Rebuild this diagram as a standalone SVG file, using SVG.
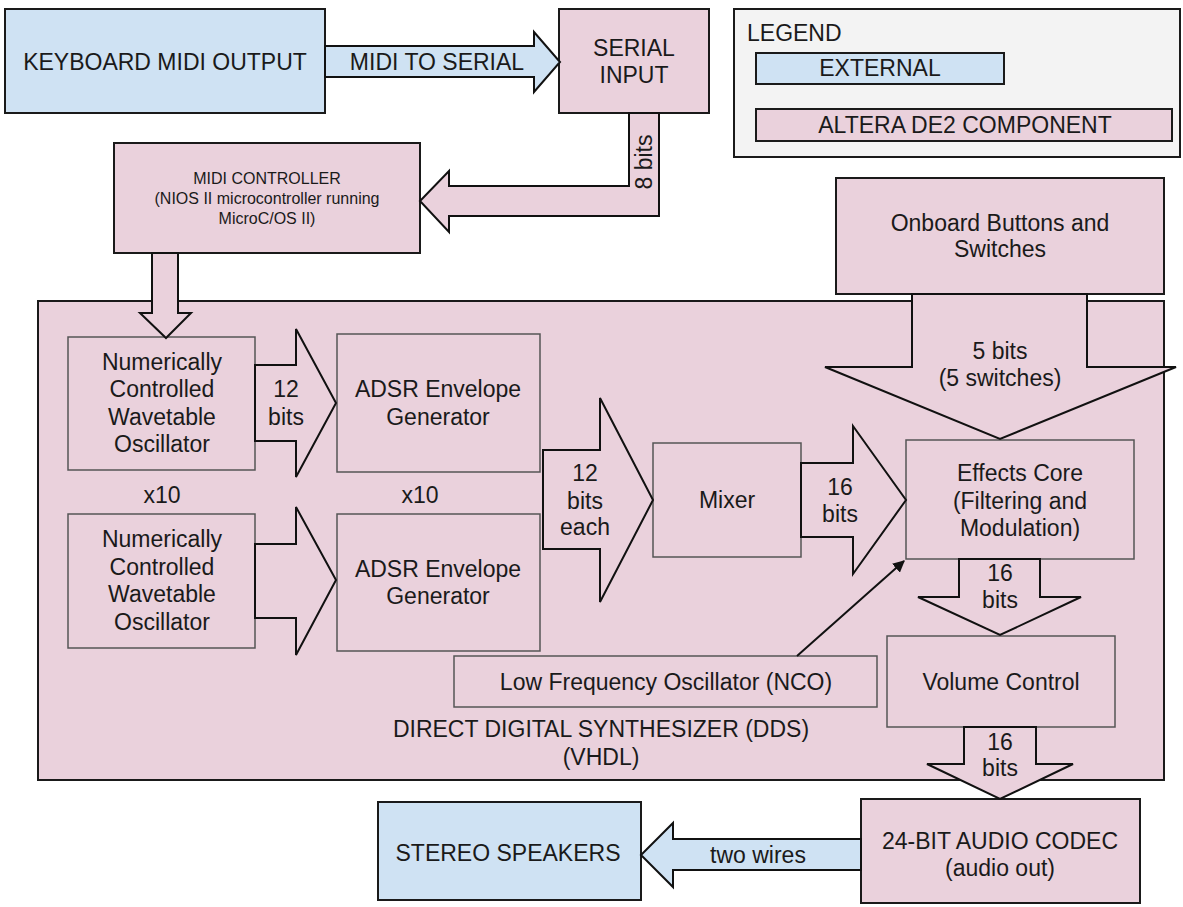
<svg xmlns="http://www.w3.org/2000/svg" width="1183" height="907" viewBox="0 0 1183 907">
<style>
text{font-family:"Liberation Sans",Arial,sans-serif;font-size:23px;fill:#1a1a1a;text-anchor:middle}
.small{font-size:16px}
.ext{fill:#cfe2f3;stroke:#1a1a1a;stroke-width:2}
.de2{fill:#ead1dc;stroke:#1a1a1a;stroke-width:2}
.inner{fill:#ead1dc;stroke:#555;stroke-width:1.5}
.leg{fill:#f3f3f3;stroke:#1a1a1a;stroke-width:2}
.arP{fill:#ead1dc;stroke:#111;stroke-width:2;stroke-linejoin:miter}
.arB{fill:#cfe2f3;stroke:#111;stroke-width:2;stroke-linejoin:miter}
.line{fill:none;stroke:#111;stroke-width:2}
</style>
<defs>
<marker id="ah" viewBox="0 0 10 10" refX="9" refY="5" markerWidth="6" markerHeight="6" orient="auto" markerUnits="strokeWidth">
<path d="M0,0 L10,5 L0,10 z" fill="#111"/>
</marker>
</defs>
<rect width="1183" height="907" fill="#fff"/>

<g id="dds">
<rect class="de2" x="38" y="301" width="1126" height="479"/>
<text x="601" y="737">DIRECT DIGITAL SYNTHESIZER (DDS)</text>
<text x="601" y="765">(VHDL)</text>
</g>

<g id="keyboard">
<rect class="ext" x="5" y="9" width="320" height="104"/>
<text x="165" y="70">KEYBOARD MIDI OUTPUT</text>
</g>

<g id="serial">
<rect class="de2" x="559" y="9" width="150" height="104"/>
<text x="634" y="56">SERIAL</text>
<text x="634" y="83">INPUT</text>
</g>

<g id="legend">
<rect class="leg" x="734" y="9" width="446" height="148"/>
<text x="747" y="41" style="text-anchor:start">LEGEND</text>
<rect class="ext" x="756" y="53" width="248" height="31"/>
<text x="880" y="76">EXTERNAL</text>
<rect class="de2" x="756" y="109" width="416" height="32"/>
<text x="965" y="133">ALTERA DE2 COMPONENT</text>
</g>

<g id="midi-controller">
<rect class="de2" x="114" y="143" width="306" height="110"/>
<text class="small" x="267" y="184">MIDI CONTROLLER</text>
<text class="small" x="267" y="204">(NIOS II microcontroller running</text>
<text class="small" x="267" y="224">MicroC/OS II)</text>
</g>

<g id="onboard">
<rect class="de2" x="836" y="178" width="328" height="116"/>
<text x="1000" y="231">Onboard Buttons and</text>
<text x="1000" y="257">Switches</text>
</g>

<g id="nco1">
<rect class="inner" x="68" y="337" width="187" height="133"/>
<text x="162" y="370">Numerically</text>
<text x="162" y="397">Controlled</text>
<text x="162" y="425">Wavetable</text>
<text x="162" y="452">Oscillator</text>
</g>

<g id="nco2">
<rect class="inner" x="68" y="514" width="187" height="134"/>
<text x="162" y="547">Numerically</text>
<text x="162" y="575">Controlled</text>
<text x="162" y="602">Wavetable</text>
<text x="162" y="630">Oscillator</text>
</g>

<g id="adsr1">
<rect class="inner" x="337" y="334" width="203" height="138"/>
<text x="438" y="397">ADSR Envelope</text>
<text x="438" y="425">Generator</text>
</g>

<g id="adsr2">
<rect class="inner" x="337" y="514" width="203" height="137"/>
<text x="438" y="577">ADSR Envelope</text>
<text x="438" y="604">Generator</text>
</g>

<g id="x10-labels">
<text x="162" y="503">x10</text>
<text x="420" y="503">x10</text>
</g>

<g id="mixer">
<rect class="inner" x="653" y="443" width="148" height="114"/>
<text x="727" y="508">Mixer</text>
</g>

<g id="effects">
<rect class="inner" x="906" y="440" width="228" height="119"/>
<text x="1020" y="481">Effects Core</text>
<text x="1020" y="509">(Filtering and</text>
<text x="1020" y="536">Modulation)</text>
</g>

<g id="lfo">
<rect class="inner" x="454" y="656" width="423" height="51"/>
<text x="666" y="690">Low Frequency Oscillator (NCO)</text>
</g>

<g id="volume">
<rect class="inner" x="887" y="636" width="228" height="91"/>
<text x="1001" y="690">Volume Control</text>
</g>

<g id="codec">
<rect class="de2" x="861" y="799" width="279" height="104"/>
<text x="1000" y="849">24-BIT AUDIO CODEC</text>
<text x="1000" y="876">(audio out)</text>
</g>

<g id="speakers">
<rect class="ext" x="378" y="802" width="263" height="98"/>
<text x="508" y="861">STEREO SPEAKERS</text>
</g>

<g id="connectors">
<polygon class="arB" points="325,46 534,46 534,32 560,62 534,92 534,77 325,77"/>
<text x="437" y="70">MIDI TO SERIAL</text>

<polygon class="arP" points="629,113 629,186 449,186 449,171 420,201 449,232 449,216 659,216 659,113"/>
<text x="644" y="162" transform="rotate(-90 644 162)" dy="8">8 bits</text>

<polygon class="arP" points="152,253 152,313 140,313 166,338 191,313 178,313 178,253"/>

<polygon class="arP" points="255,365 296,365 296,329 336,403 296,477 296,441 255,441"/>
<text x="286" y="397">12</text>
<text x="286" y="425">bits</text>

<polygon class="arP" points="255,544 296,544 296,507 336,580 296,655 296,618 255,618"/>

<polygon class="arP" points="543,450 600,450 600,398 653,500 600,602 600,549 543,549"/>
<text x="585" y="481">12</text>
<text x="585" y="509">bits</text>
<text x="585" y="535">each</text>

<polygon class="arP" points="801,463 853,463 853,426 906,500 853,574 853,537 801,537"/>
<text x="840" y="495">16</text>
<text x="840" y="522">bits</text>

<polygon class="arP" points="912,294 912,367 825,367 1000,439 1176,367 1087,367 1087,294"/>
<text x="1000" y="359">5 bits</text>
<text x="1000" y="386">(5 switches)</text>

<polygon class="arP" points="959,559 959,597 918,597 1000,635 1081,597 1040,597 1040,559"/>
<text x="1000" y="581">16</text>
<text x="1000" y="608">bits</text>

<line class="line" x1="797" y1="656" x2="904" y2="561" marker-end="url(#ah)"/>

<polygon class="arP" points="964,727 964,764 927,764 1000,799 1073,764 1036,764 1036,727"/>
<text x="1000" y="750">16</text>
<text x="1000" y="776">bits</text>

<polygon class="arB" points="861,839 673,839 673,823 641,855 673,887 673,870 861,870"/>
<text x="758" y="863">two wires</text>
</g>
</svg>
